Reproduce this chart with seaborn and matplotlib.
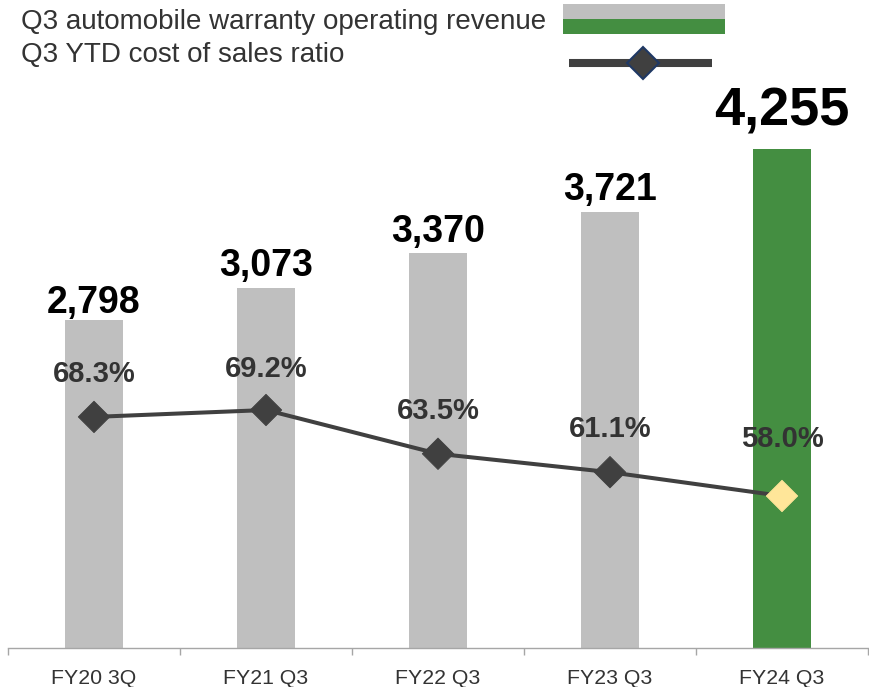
import matplotlib
matplotlib.use("Agg")
import matplotlib.pyplot as plt
import seaborn as sns
import numpy as np
from matplotlib.patches import Rectangle
from matplotlib.lines import Line2D

# ---- data ----
categories = ["FY20 3Q", "FY21 Q3", "FY22 Q3", "FY23 Q3", "FY24 Q3"]
revenue = [2798, 3073, 3370, 3721, 4255]
cost_ratio = [68.3, 69.2, 63.5, 61.1, 58.0]
legend_labels = ["Q3 automobile warranty operating revenue", "Q3 YTD cost of sales ratio"]

# ---- style ----
GREY = "#BFBFBF"
GREEN = "#448E41"
LINE = "#404040"
YELLOW = "#FFE699"
NAVY = "#1F3864"
bar_colors = [GREY, GREY, GREY, GREY, GREEN]
marker_colors = [LINE, LINE, LINE, LINE, YELLOW]

sns.set_theme(style="white")
plt.rcParams["font.family"] = ["Liberation Sans", "DejaVu Sans"]

W, H = 869, 687
fig = plt.figure(figsize=(W / 100, H / 100), dpi=100)
ax = fig.add_axes([8 / W, 39 / H, 860 / W, 628 / H])

sns.barplot(x=categories, y=revenue, hue=categories, palette=bar_colors,
            width=0.335, saturation=1, legend=False, ax=ax, linewidth=0)
ax.set_ylim(0, 5355)
ax.set_xlim(-0.5, len(categories) - 0.5)

idx = np.arange(len(categories))

ax2 = ax.twinx()
sns.lineplot(x=idx, y=cost_ratio, color=LINE, linewidth=2.9, ax=ax2, legend=False)
sns.scatterplot(x=idx, y=cost_ratio, hue=categories, palette=marker_colors,
                marker="D", s=16 ** 2, edgecolor=marker_colors, linewidth=0.6,
                legend=False, ax=ax2, zorder=5)
ax2.set_ylim(38.2, 120.0)
ax2.set_yticks([])
ax2.set_ylabel("")
for s in ax2.spines.values():
    s.set_visible(False)

# bar value labels
bar_gaps = [7, 12, 11, 12, 24]
bar_sizes = [27, 27, 27, 27, 39]
for i, v in enumerate(revenue):
    ax.annotate(f"{v:,}", xy=(i, v), xytext=(0, bar_gaps[i] * 0.72),
                textcoords="offset points", ha="center", va="baseline",
                fontsize=bar_sizes[i], fontweight="bold", color="black")

# ratio labels
ratio_gaps = [35, 33, 35, 35, 49]
for i, v in enumerate(cost_ratio):
    ax2.annotate(f"{v:.1f}%", xy=(i, v), xytext=(0, ratio_gaps[i] * 0.72),
                 textcoords="offset points", ha="center", va="baseline",
                 fontsize=21, fontweight="bold", color="#333333", zorder=6)

# axes styling
ax.set_yticks([])
ax.set_ylabel("")
ax.set_xlabel("")
for k in ["top", "left", "right"]:
    ax.spines[k].set_visible(False)
ax.spines["bottom"].set_color("#A6A6A6")
ax.spines["bottom"].set_linewidth(1)
ax.set_xticks(idx)
ax.set_xticklabels(categories)
ax.set_xticks(np.arange(len(categories) + 1) - 0.5, minor=True)
ax.tick_params(axis="x", which="major", length=0, pad=15, labelsize=15.3,
               labelcolor="#333333")
ax.tick_params(axis="x", which="minor", length=5, width=1, color="#A6A6A6",
               bottom=True, direction="out")

# legend (manual)
fig.text(21 / W, 1 - 29 / H, legend_labels[0], fontsize=20, color="#333333",
         va="baseline", ha="left")
fig.text(21 / W, 1 - 62 / H, legend_labels[1], fontsize=20, color="#333333",
         va="baseline", ha="left")
fig.add_artist(Rectangle((563 / W, 1 - 19 / H), 162 / W, 15 / H,
                         transform=fig.transFigure, facecolor=GREY, edgecolor="none"))
fig.add_artist(Rectangle((563 / W, 1 - 34 / H), 162 / W, 15 / H,
                         transform=fig.transFigure, facecolor=GREEN, edgecolor="none"))
fig.add_artist(Line2D([569 / W, 712 / W], [1 - 62.5 / H, 1 - 62.5 / H],
                      transform=fig.transFigure, color=LINE, linewidth=5.8,
                      solid_capstyle="butt"))
fig.add_artist(Line2D([643 / W], [1 - 62.5 / H], transform=fig.transFigure,
                      marker="D", markersize=16.5, markerfacecolor=LINE,
                      markeredgecolor=NAVY, markeredgewidth=1.5, linestyle="none"))

fig.savefig("out.png", dpi=100)
